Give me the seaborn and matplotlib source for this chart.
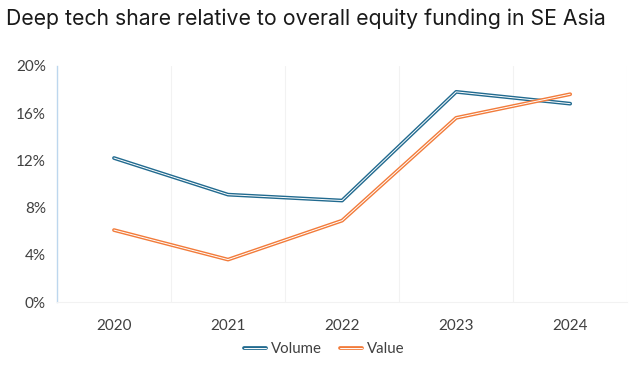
import numpy as np
import pandas as pd
import seaborn as sns
import matplotlib.pyplot as plt
import matplotlib.patheffects as pe
from matplotlib.ticker import PercentFormatter, MultipleLocator

years = ['2020', '2021', '2022', '2023', '2024']
volume = [12.2, 9.1, 8.6, 17.8, 16.8]
value = [6.1, 3.6, 6.9, 15.6, 17.6]
series = ['Volume', 'Value']
colors = ['#216A8F', '#F27B3A']

df = pd.DataFrame({
    'x': list(range(len(years))) * 2,
    'share': volume + value,
    'series': ['Volume'] * len(years) + ['Value'] * len(years),
})

sns.set_style("white")
plt.rcParams['font.family'] = ['Lato', 'DejaVu Sans']

fig = plt.figure(figsize=(6.4, 3.68), dpi=100)
ax = fig.add_axes([0.089, 0.179, 0.891, 0.642])

sns.lineplot(data=df, x='x', y='share', hue='series', hue_order=series,
             palette=colors, linewidth=2.4, ax=ax, legend=False)

# double line look: coloured stroke with a thin white core
for line in ax.lines:
    c = line.get_color()
    line.set_path_effects([pe.Stroke(linewidth=2.7, foreground=c),
                           pe.Stroke(linewidth=0.7, foreground='white')])

ax.set_xlim(-0.5, len(years) - 0.5)
ax.set_ylim(0, 20)
ax.set_xticks(range(len(years)))
ax.set_xticklabels(years)
ax.xaxis.set_minor_locator(MultipleLocator(1, offset=0.5))
ax.yaxis.set_major_locator(MultipleLocator(4))
ax.yaxis.set_major_formatter(PercentFormatter(decimals=0))
ax.grid(which='minor', axis='x', color='#F2F2F2', linewidth=0.8)
ax.grid(which='major', axis='both', visible=False)
ax.tick_params(axis='x', which='both', length=0, labelsize=11, labelcolor='#404040', pad=12)
ax.tick_params(axis='y', direction='in', length=4, color='#BDD7EE', labelsize=11,
               labelcolor='#404040', pad=8)
ax.set_xlabel('')
ax.set_ylabel('')

for s in ['top', 'right']:
    ax.spines[s].set_visible(False)
ax.spines['left'].set_color('#BDD7EE')
ax.spines['left'].set_linewidth(1.0)
ax.spines['bottom'].set_color('#F2F2F2')
ax.spines['bottom'].set_linewidth(0.8)

handles = [ax.lines[0], ax.lines[1]]
fig.legend(handles, series, loc='center', bbox_to_anchor=(0.506, 0.052), ncol=2,
           frameon=False, fontsize=10.8, handlelength=1.5, handletextpad=0.3,
           columnspacing=1.2, labelcolor='#404040')

fig.text(0.009, 0.95, 'Deep tech share relative to overall equity funding in SE Asia',
         fontsize=15.3, color='#1A1A1A', family=['Inter', 'DejaVu Sans'], va='center')

fig.savefig('out.png', dpi=100)
plt.close(fig)
